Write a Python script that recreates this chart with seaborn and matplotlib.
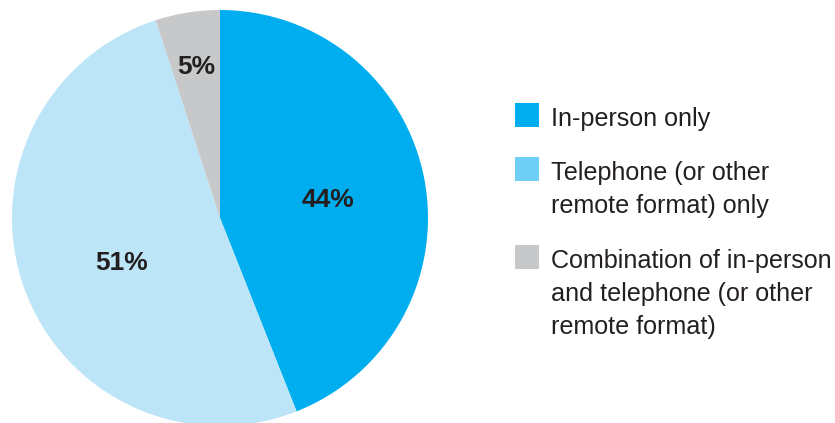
import matplotlib
matplotlib.use("Agg")
import matplotlib.pyplot as plt
from matplotlib.patches import Rectangle
import seaborn as sns

# Survey shares by consultation format
categories = [
    "In-person only",
    "Telephone (or other\nremote format) only",
    "Combination of in-person\nand telephone (or other\nremote format)",
]
shares = [44, 51, 5]
slice_colors = ["#00AEEF", "#BDE5F8", "#C7C8CA"]
legend_colors = ["#00AEEF", "#6DCFF6", "#C7C8CA"]
label_texts = [f"{v}%" for v in shares]

sns.set_style("white")
plt.rcParams["font.family"] = ["Liberation Sans", "DejaVu Sans"]

TEXT = "#231F20"
W, H = 835, 423
fig = plt.figure(figsize=(W / 100, H / 100), dpi=100)
ax = fig.add_axes([0, 0, 1, 1])

# Pie drawn in pixel-sized data units, first slice starting at 12 o'clock
cx, cy, r = 220, H - 218, 208
ax.pie(
    shares,
    colors=slice_colors,
    startangle=90,
    counterclock=False,
    radius=r,
    center=(cx, cy),
    wedgeprops=dict(linewidth=0),
    frame=True,
)
ax.set_xlim(0, W)
ax.set_ylim(0, H)
ax.set_aspect("equal")
ax.axis("off")

# Value labels inside the slices (baseline positions)
label_pos = [(328, H - 207), (122, H - 270), (196, H - 74)]
for txt, (x, y) in zip(label_texts, label_pos):
    ax.text(x, y, txt, ha="center", va="baseline", fontsize=19,
            fontweight="bold", color=TEXT)

# Legend: square swatch aligned with the first line of each entry
swatch_top = [103, 157, 245]
first_baseline = [126, 180, 268]
line_step = 33
for cat, col, top, base in zip(categories, legend_colors, swatch_top, first_baseline):
    ax.add_patch(Rectangle((515, H - top - 24), 24, 24, facecolor=col,
                           edgecolor="none"))
    for i, line in enumerate(cat.split("\n")):
        ax.text(551, H - (base + i * line_step), line, ha="left",
                va="baseline", fontsize=18.1, color=TEXT)

fig.savefig("out.png", dpi=100)
